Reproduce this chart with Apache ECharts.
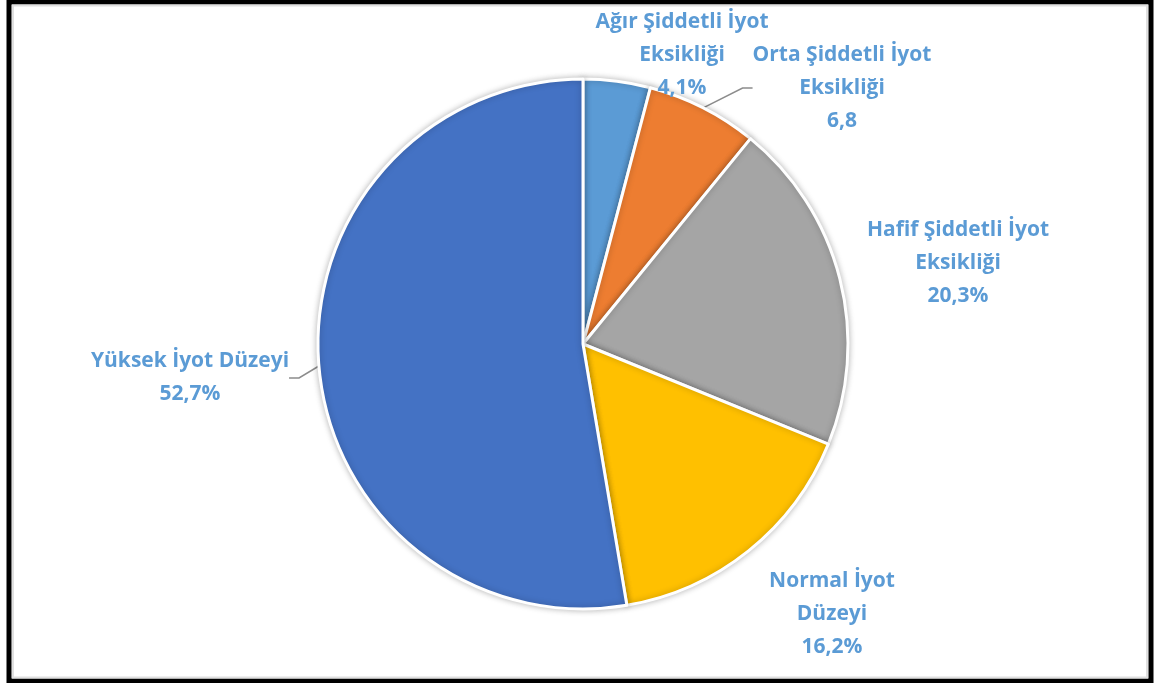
<!DOCTYPE html>
<html>
<head>
<meta charset="utf-8">
<script src="https://cdn.jsdelivr.net/npm/echarts@6/dist/echarts.min.js"></script>
<style>
  html, body { margin: 0; padding: 0; background: #fff; }
  #chart { width: 1154px; height: 683px; }
</style>
</head>
<body>
<div id="chart"></div>
<script>
var categories = [
  'Ağır Şiddetli İyot\nEksikliği',
  'Orta Şiddetli İyot\nEksikliği',
  'Hafif Şiddetli İyot\nEksikliği',
  'Normal İyot\nDüzeyi',
  'Yüksek İyot Düzeyi'
];
var values = [4.1, 6.8, 20.3, 16.2, 52.7];
var valueLabels = ['4,1%', '6,8', '20,3%', '16,2%', '52,7%'];
var colors = ['#5B9BD5', '#ED7D31', '#A5A5A5', '#FFC000', '#4472C4'];

// label centres
var labelPos = [[682, 55], [842, 88], [958, 263], [832, 614], [190, 378]];
var showLine = [false, true, false, false, true];

var data = [];
for (var i = 0; i < categories.length; i++) {
  data.push({
    name: categories[i],
    value: values[i],
    itemStyle: { color: colors[i] },
    labelLine: { show: showLine[i] }
  });
}

var myChart = echarts.init(document.getElementById('chart'));
var option = {
  animation: false,
  backgroundColor: '#fff',
  graphic: [
    { type: 'rect', shape: { x: 9, y: 2, width: 1142, height: 679 },
      style: { fill: null, stroke: '#000', lineWidth: 5 }, z: 100 },
    { type: 'rect', shape: { x: 13, y: 5.5, width: 1134, height: 672 },
      style: { fill: null, stroke: '#e0e0e0', lineWidth: 2 }, z: 100 }
  ],
  series: [{
    type: 'pie',
    center: [583, 344],
    radius: 265,
    startAngle: 90,
    clockwise: true,
    data: data,
    itemStyle: {
      borderColor: '#fff',
      borderWidth: 3,
      shadowBlur: 6,
      shadowColor: 'rgba(0,0,0,0.25)'
    },
    label: {
      show: true,
      position: 'outside',
      color: '#5B9BD5',
      fontFamily: 'Open Sans',
      fontWeight: 'bold',
      fontSize: 21,
      lineHeight: 33,
      align: 'center',
      formatter: function (p) {
        return p.name + '\n' + valueLabels[p.dataIndex];
      }
    },
    labelLine: {
      lineStyle: { color: '#8c8c8c', width: 1.5 },
      length: 10,
      length2: 10
    },
    labelLayout: function (p) {
      var c = labelPos[p.dataIndex];
      return { x: c[0], y: c[1], align: 'center', verticalAlign: 'middle' };
    }
  }]
};
myChart.setOption(option);
</script>
</body>
</html>
